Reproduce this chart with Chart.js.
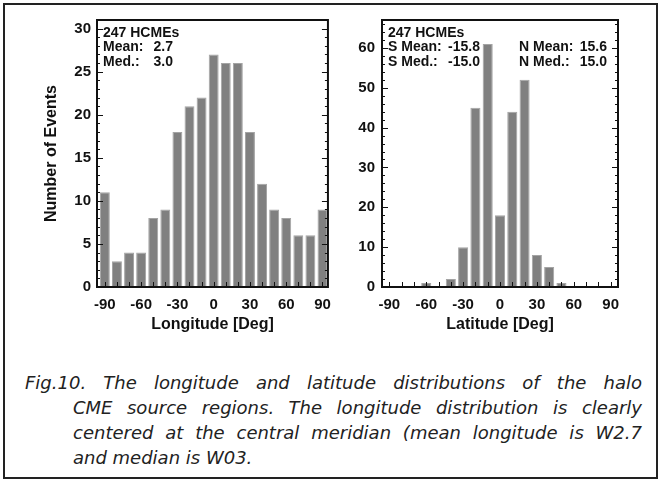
<!DOCTYPE html>
<html>
<head>
<meta charset="utf-8">
<script src="https://cdn.jsdelivr.net/npm/chart.js@4.4.1/dist/chart.umd.min.js"></script>
<style>
  html, body { margin: 0; padding: 0; background: #fff; }
  #page { position: relative; width: 660px; height: 482px; overflow: hidden; }
  #frame { position: absolute; left: 3px; top: 3px; width: 651px; height: 472px; border: 2px solid #222; }
  #c1 { position: absolute; left: 0; top: 0; }
  #c2 { position: absolute; left: 340px; top: 0; }
  #caption {
    position: absolute; left: 25px; top: 370px; width: 617px;
    font: italic 18px "DejaVu Sans", sans-serif; line-height: 25px; color: #222;
  }
  #caption div { white-space: nowrap; text-align: justify; text-align-last: justify; }
  #caption div + div { margin-left: 48px; }
  #caption div:last-child { text-align-last: left; }
</style>
</head>
<body>
<div id="page">
  <div id="frame"></div>
  <canvas id="c1" width="340" height="345"></canvas>
  <canvas id="c2" width="320" height="345"></canvas>
  <div id="caption"></div>
</div>
<script>
// bin centres in degrees, 10 deg bins
const binCenters = [-90, -80, -70, -60, -50, -40, -30, -20, -10, 0, 10, 20, 30, 40, 50, 60, 70, 80, 90];
const lonCounts = [11, 3, 4, 4, 8, 9, 18, 21, 22, 27, 26, 26, 18, 12, 9, 8, 6, 6, 9];
const latCounts = [0, 0, 0, 1, 0, 2, 10, 45, 61, 18, 44, 52, 8, 5, 1, 0, 0, 0, 0];
const xTickLabels = [-90, -60, -30, 0, 30, 60, 90];

// text boxes inside the plots
const lonNotes = [['247 HCMEs', ''], ['Mean:', '2.7'], ['Med.:', '3.0']];
const latSouth = [['247 HCMEs', ''], ['S Mean:', '-15.8'], ['S Med.:', '-15.0']];
const latNorth = [['', ''], ['N Mean:', '15.6'], ['N Med.:', '15.0']];

const captionLines = [
  'Fig.10. The longitude and latitude distributions of the halo',
  'CME source regions. The longitude distribution is clearly',
  'centered at the central meridian (mean longitude is W2.7',
  'and median is W03.'
];

// caption, one block per line, shrink the font until every line fits
const cap = document.getElementById('caption');
captionLines.forEach(t => {
  const d = document.createElement('div');
  const s = document.createElement('span');
  s.textContent = t;
  d.appendChild(s);
  cap.appendChild(d);
});
let capSize = 18;
const fits = () => [...cap.children].every(d => d.firstChild.offsetWidth <= d.clientWidth);
while (!fits() && capSize > 12) {
  capSize -= 0.25;
  cap.style.fontSize = capSize + 'px';
}

Chart.defaults.font.family = '"Liberation Sans", Arial, sans-serif';
Chart.defaults.color = '#111';

const frameTicks = {
  id: 'frameTicks',
  afterDraw(chart, args, opts) {
    const { ctx, chartArea: a, scales: { x, y } } = chart;
    ctx.save();
    ctx.strokeStyle = '#111';
    ctx.lineWidth = 1;
    ctx.beginPath();
    for (let v = y.min; v <= y.max; v += opts.yMinor) {
      const py = Math.round(y.getPixelForValue(v)) + 0.5;
      const len = v % opts.yMajor === 0 ? 6 : 3;
      ctx.moveTo(a.left, py); ctx.lineTo(a.left + len, py);
      ctx.moveTo(a.right, py); ctx.lineTo(a.right - len, py);
    }
    binCenters.forEach(v => {
      const px = Math.round(x.getPixelForValue(v)) + 0.5;
      ctx.moveTo(px, a.bottom); ctx.lineTo(px, a.bottom - 5);
    });
    ctx.stroke();
    ctx.lineWidth = 2;
    ctx.strokeRect(a.left, a.top, a.right - a.left, a.bottom - a.top);

    // stat text
    ctx.fillStyle = '#111';
    ctx.font = 'bold 14px "Liberation Sans", Arial, sans-serif';
    ctx.textBaseline = 'middle';
    opts.notes.forEach(block => {
      block.rows.forEach((row, i) => {
        const py = a.top + 13 + i * 14.5;
        ctx.textAlign = 'left';
        ctx.fillText(row[0], a.left + block.labelX, py);
        ctx.textAlign = 'right';
        ctx.fillText(row[1], a.left + block.valueX, py);
      });
    });
    ctx.restore();
  }
};

function makeChart(id, counts, opts) {
  return new Chart(document.getElementById(id), {
    type: 'bar',
    data: {
      datasets: [{
        data: binCenters.map((c, i) => ({ x: c, y: counts[i] })),
        backgroundColor: '#808080',
        borderColor: '#a4a4a4',
        borderWidth: 1,
        borderSkipped: 'start',
        barPercentage: 0.82,
        categoryPercentage: 1
      }]
    },
    options: {
      responsive: false,
      animation: false,
      layout: { padding: { left: 0, top: 20, right: opts.padRight, bottom: 0 } },
      plugins: {
        legend: { display: false },
        tooltip: { enabled: false },
        frameTicks: { yMinor: opts.yMinor, yMajor: opts.yMajor, notes: opts.notes }
      },
      scales: {
        x: {
          type: 'linear',
          min: opts.xMin,
          max: opts.xMax,
          offset: false,
          grid: { display: false, drawTicks: false },
          border: { display: false },
          afterBuildTicks: s => { s.ticks = xTickLabels.map(v => ({ value: v })); },
          ticks: { font: { size: 15, weight: 'bold' }, padding: 9, maxRotation: 0, autoSkip: false },
          title: { display: true, text: opts.xTitle, font: { size: 16, weight: 'bold' }, padding: { top: 0, bottom: 11 } },
          afterFit: s => { s.height = 58; }
        },
        y: {
          min: 0,
          max: opts.yMax,
          grid: { display: false, drawTicks: false },
          border: { display: false },
          ticks: { stepSize: opts.yMajor, includeBounds: false, font: { size: 15, weight: 'bold' }, padding: opts.yPad },
          title: { display: !!opts.yTitle, text: opts.yTitle, font: { size: 16, weight: 'bold' }, padding: { top: 42, bottom: 0 } },
          afterFit: s => { s.width = opts.yWidth; }
        }
      }
    },
    plugins: [frameTicks]
  });
}

makeChart('c1', lonCounts, {
  padRight: 7, yWidth: 97, yPad: 6, yMax: 31, yMajor: 5, yMinor: 1,
  xMin: -96.5, xMax: 94.5, xTitle: 'Longitude [Deg]', yTitle: 'Number of Events',
  notes: [{ rows: lonNotes, labelX: 6, valueX: 76 }]
});

makeChart('c2', latCounts, {
  padRight: 42, yWidth: 42, yPad: 7, yMax: 67, yMajor: 10, yMinor: 2,
  xMin: -96, xMax: 96, xTitle: 'Latitude [Deg]', yTitle: '',
  notes: [{ rows: latSouth, labelX: 6, valueX: 98 }, { rows: latNorth, labelX: 137, valueX: 225 }]
});
</script>
</body>
</html>
